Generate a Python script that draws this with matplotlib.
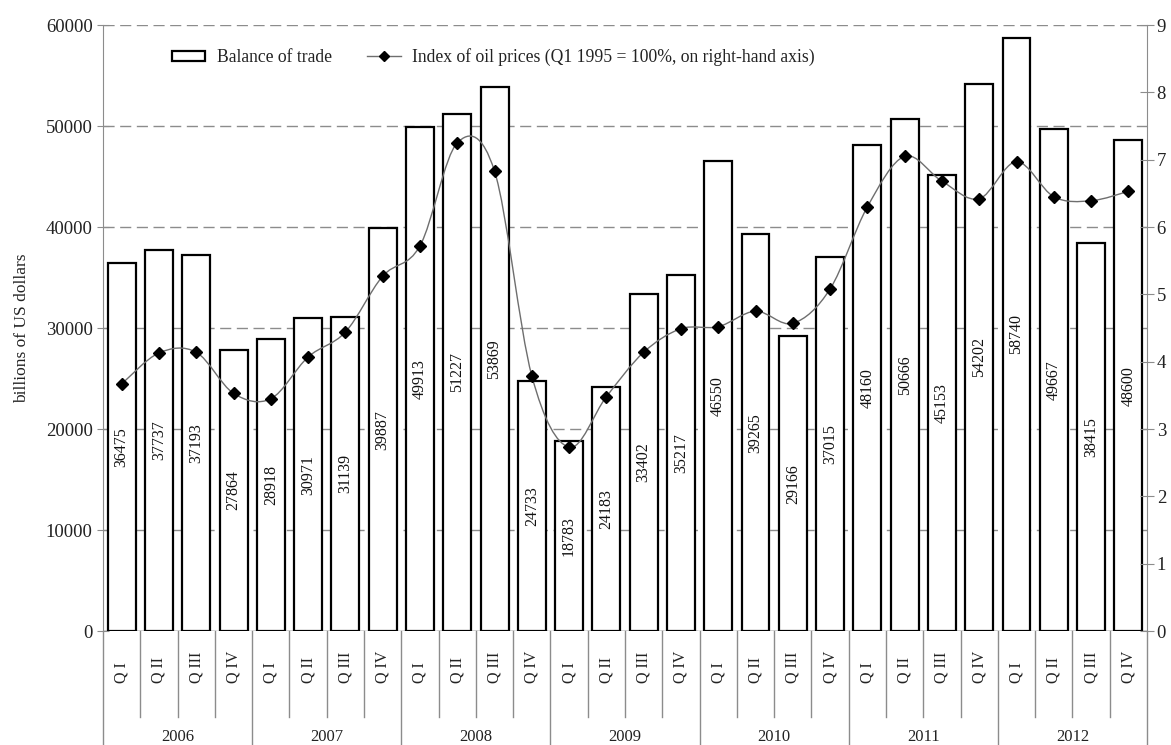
import matplotlib
matplotlib.use('Agg')
import matplotlib.pyplot as plt
from matplotlib.path import Path
from matplotlib.patches import PathPatch, Patch
from matplotlib.lines import Line2D
import matplotlib.transforms as mtransforms
import numpy as np

plt.rcParams['font.family'] = ['Liberation Serif', 'DejaVu Serif']

# Квартальні дані
years = ['2006', '2007', '2008', '2009', '2010', '2011', '2012']
quarters = ['Q I', 'Q II', 'Q III', 'Q IV']
balance = [36475, 37737, 37193, 27864, 28918, 30971, 31139, 39887,
           49913, 51227, 53869, 24733, 18783, 24183, 33402, 35217,
           46550, 39265, 29166, 37015, 48160, 50666, 45153, 54202,
           58740, 49667, 38415, 48600]
oil_index = [3.67, 4.13, 4.14, 3.53, 3.45, 4.07, 4.44, 5.27,
             5.72, 7.25, 6.83, 3.79, 2.73, 3.48, 4.14, 4.49,
             4.52, 4.75, 4.57, 5.08, 6.30, 7.05, 6.68, 6.42,
             6.97, 6.45, 6.39, 6.53]

FS_BAR = 11.5
FS_TICK = 13.5
FS_LEG = 12.7
GRID = '#8c8c8c'
TXT = '#222222'

fig = plt.figure(figsize=(11.71, 7.45), dpi=100)
ax = fig.add_axes([0.088, 0.153, 0.8915, 0.8134])
ax2 = ax.twinx()

x = np.arange(len(balance))

# Стовпчики
ax.set_axisbelow(True)
ax.bar(x, balance, width=0.75, color='white', edgecolor='black', linewidth=1.6, zorder=2)
for xi, v in zip(x, balance):
    ax.text(xi, v / 2, str(v), rotation=90, ha='center', va='center',
            fontsize=FS_BAR, color='#111111', zorder=3)

ax.set_xlim(-0.5, len(balance) - 0.5)
ax.set_ylim(0, 60000)
ax.set_yticks(range(0, 60001, 10000))
ax.yaxis.grid(True, color=GRID, linestyle=(0, (8, 4)), linewidth=1.0)
ax.set_xticks([])
ax.set_ylabel('billions of US dollars', fontsize=12.5, labelpad=11, color=TXT)
ax.tick_params(axis='y', direction='inout', length=9, color=GRID, labelsize=FS_TICK,
               pad=3, labelcolor=TXT)

for side in ['top', 'bottom', 'right']:
    ax.spines[side].set_visible(False)
ax.spines['left'].set_color(GRID)
ax.axhline(0, color=GRID, linewidth=1.0, zorder=1)

# Згладжена лінія індексу (криві Безьє через точки)
pts = np.column_stack([x, oil_index]).astype(float)
verts = [tuple(pts[0])]
codes = [Path.MOVETO]
n = len(pts)
for i in range(n - 1):
    p0 = pts[i - 1] if i > 0 else pts[i]
    p1 = pts[i]
    p2 = pts[i + 1]
    p3 = pts[i + 2] if i + 2 < n else pts[i + 1]
    c1 = p1 + (p2 - p0) / 6.0
    c2 = p2 - (p3 - p1) / 6.0
    verts += [tuple(c1), tuple(c2), tuple(p2)]
    codes += [Path.CURVE4] * 3
ax2.add_patch(PathPatch(Path(verts, codes), facecolor='none', edgecolor='#6e6e6e', linewidth=1.0, zorder=3))
ax2.plot(x, oil_index, linestyle='none', marker='D', markersize=6.5, color='black', zorder=4)

ax2.set_ylim(0, 9)
ax2.set_yticks(range(0, 10))
ax2.tick_params(axis='y', direction='inout', length=10, color=GRID, labelsize=FS_TICK,
                pad=2, labelcolor=TXT)
for side in ['top', 'bottom', 'left']:
    ax2.spines[side].set_visible(False)
ax2.spines['right'].set_color(GRID)

# Підписи кварталів і років під віссю
trans = mtransforms.blended_transform_factory(ax.transData, ax.transAxes)
for i in range(len(balance)):
    ax.text(i, -0.086, quarters[i % 4], rotation=90, ha='center', va='bottom',
            fontsize=FS_BAR, color=TXT, transform=trans)
for i in range(len(balance) + 1):
    bottom = -0.188 if i % 4 == 0 else -0.142
    ax.plot([i - 0.5, i - 0.5], [0, bottom], color=GRID, linewidth=1.0,
            transform=trans, clip_on=False)
for k, yr in enumerate(years):
    ax.text(4 * k + 1.5, -0.175, yr, ha='center', va='center', fontsize=12,
            color=TXT, transform=trans)

# Легенда
handles = [Patch(facecolor='white', edgecolor='black', linewidth=1.6),
           Line2D([], [], color='#6e6e6e', linewidth=1.0, marker='D', markersize=5,
                  markerfacecolor='black', markeredgecolor='black')]
labels = ['Balance of trade', 'Index of oil prices (Q1 1995 = 100%, on right-hand axis)']
leg = ax2.legend(handles, labels, loc='center left', bbox_to_anchor=(0.066, 0.947), ncol=2,
                 frameon=False, fontsize=FS_LEG, handlelength=1.9, handleheight=0.55,
                 columnspacing=2.0, handletextpad=0.65, borderpad=0, borderaxespad=0)
for t in leg.get_texts():
    t.set_color(TXT)

fig.savefig('out.png', dpi=100)
